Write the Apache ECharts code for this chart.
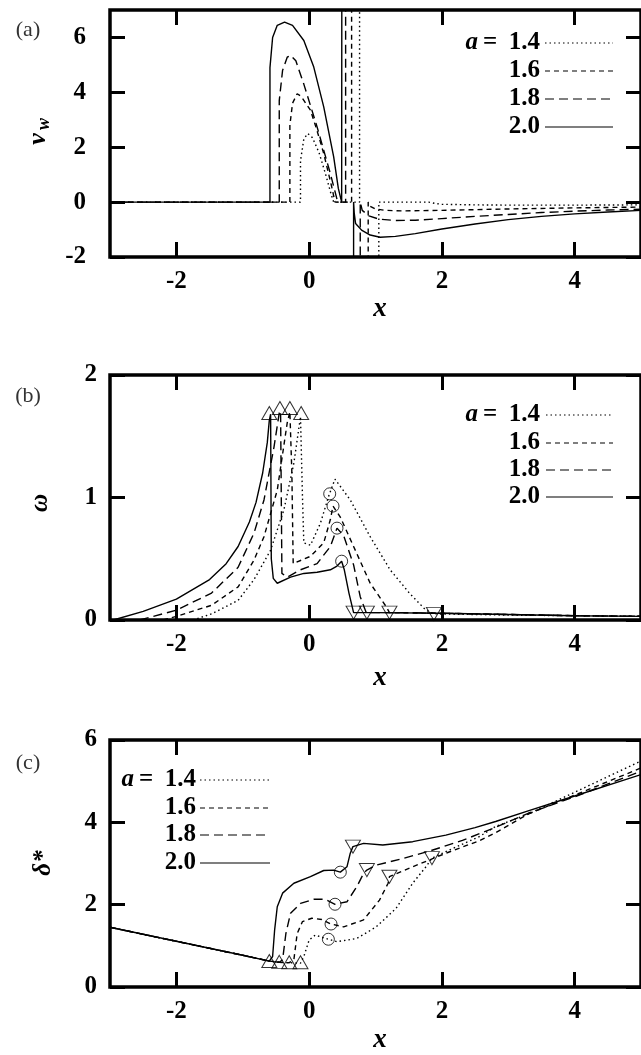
<!DOCTYPE html>
<html>
<head>
<meta charset="utf-8">
<script src="https://cdn.jsdelivr.net/npm/echarts@6/dist/echarts.min.js"></script>
<style>
  html, body { margin: 0; padding: 0; background: #fff; }
  #chart { width: 641px; height: 1055px; }
</style>
</head>
<body>
<div id="chart"></div>
<script>
// ---- parameter values (a) ----
const aValues = ['1.4', '1.6', '1.8', '2.0'];
const xTicks = [-2, 0, 2, 4];
const vwTicks = [-2, 0, 2, 4, 6];
const omTicks = [0, 1, 2];
const dsTicks = [0, 2, 4, 6];

// ---- wall-normal velocity v_w(x); '-' breaks the curve across the singular region ----
const vw14 = [[-3,0],[-0.13,0],[-0.13,1.5],[-0.08,2.3],[-0.02,2.5],[0.05,2.35],[0.15,1.8],[0.25,1.0],[0.33,0.3],[0.37,0],
  [0.76,0],[0.76,30],[0.8,'-'],[1.05,-30],[1.05,0],[1.8,0],[1.9,-0.05],[2.0,-0.08],[2.5,-0.1],[3,-0.11],[4,-0.11],[5,-0.1]];
const vw16 = [[-3,0],[-0.29,0],[-0.29,2.8],[-0.25,3.6],[-0.18,3.95],[-0.12,3.85],[0.02,3.35],[0.12,2.6],[0.22,1.77],[0.34,0.56],[0.39,0],
  [0.64,0],[0.64,30],[0.7,'-'],[0.89,-30],[0.89,0],[0.92,-0.15],[1.0,-0.25],[1.15,-0.3],[1.4,-0.32],[2.0,-0.3],[3.0,-0.25],[4.0,-0.21],[5,-0.18]];
const vw18 = [[-3,0],[-0.45,0],[-0.45,3.7],[-0.4,4.8],[-0.33,5.28],[-0.28,5.35],[-0.2,5.15],[-0.08,4.3],[0.12,2.74],[0.32,1.04],[0.42,0.1],[0.44,0],
  [0.55,0],[0.55,30],[0.6,'-'],[0.77,-30],[0.77,0],[0.8,-0.3],[0.9,-0.5],[1.05,-0.62],[1.3,-0.67],[1.6,-0.66],[2.0,-0.6],[2.5,-0.52],[3.0,-0.45],[3.5,-0.38],[4.0,-0.33],[4.5,-0.29],[5,-0.26]];
const vw20 = [[-3,0],[-0.59,0],[-0.59,4.9],[-0.55,6.0],[-0.48,6.44],[-0.37,6.56],[-0.25,6.44],[-0.08,5.89],[0.07,4.92],[0.22,3.47],[0.37,1.65],[0.44,0.5],[0.49,0],
  [0.5,0],[0.5,30],[0.58,'-'],[0.67,-30],[0.67,0],[0.68,-0.41],[0.70,-0.78],[0.79,-1.02],[0.92,-1.2],[1.07,-1.28],[1.3,-1.25],[1.6,-1.15],[2.0,-0.98],[2.5,-0.8],[3.0,-0.64],[3.5,-0.52],[4.0,-0.43],[4.5,-0.36],[5,-0.3]];

// ---- wall vorticity omega(x) ----
const om14 = [[-1.75,0],[-1.47,0.05],[-1.07,0.16],[-0.83,0.33],[-0.58,0.57],[-0.38,0.9],[-0.23,1.28],[-0.13,1.66],[-0.1,1.0],[-0.08,0.63],[0.02,0.61],[0.17,0.79],[0.30,1.02],[0.39,1.15],
  [0.62,0.98],[0.92,0.68],[1.22,0.41],[1.51,0.22],[1.76,0.08],[1.88,0.05],[2.5,0.045],[3,0.04],[4,0.035],[5,0.03]];
const om16 = [[-2.2,0],[-2,0.03],[-1.47,0.12],[-1.07,0.27],[-0.83,0.49],[-0.68,0.68],[-0.48,1.06],[-0.33,1.61],[-0.29,1.70],[-0.26,1.2],[-0.24,0.46],[-0.22,0.45],[0.02,0.52],[0.22,0.63],[0.32,0.82],[0.36,0.93],
  [0.47,0.84],[0.67,0.6],[0.92,0.3],[1.16,0.11],[1.21,0.06],[2,0.055],[3,0.045],[4,0.035],[5,0.03]];
const om18 = [[-2.55,0],[-2,0.08],[-1.47,0.22],[-1.07,0.43],[-0.83,0.71],[-0.68,0.98],[-0.53,1.41],[-0.45,1.69],[-0.43,1.71],[-0.41,0.38],[-0.33,0.35],[-0.13,0.41],[0.12,0.46],[0.32,0.6],[0.42,0.75],
  [0.52,0.69],[0.67,0.45],[0.77,0.19],[0.86,0.06],[1.5,0.06],[2,0.055],[3,0.045],[4,0.035],[5,0.03]];
const om20 = [[-2.95,0],[-2.5,0.07],[-2,0.17],[-1.5,0.33],[-1.25,0.46],[-1.07,0.6],[-0.9,0.8],[-0.8,0.96],[-0.7,1.2],[-0.63,1.45],[-0.6,1.63],[-0.58,1.68],[-0.57,0.5],[-0.54,0.34],[-0.48,0.30],
  [-0.28,0.35],[-0.08,0.38],[0.12,0.39],[0.32,0.41],[0.42,0.44],[0.49,0.48],[0.53,0.41],[0.6,0.22],[0.67,0.06],[1,0.06],[2,0.055],[3,0.045],[4,0.035],[5,0.03]];
const omUp = [[-0.6,1.69],[-0.44,1.73],[-0.29,1.73],[-0.12,1.69]];
const omCircle = [[0.49,0.48],[0.42,0.75],[0.36,0.93],[0.31,1.03]];
const omDown = [[0.67,0.06],[0.87,0.06],[1.21,0.06],[1.88,0.05]];

// ---- displacement thickness delta*(x) ----
const dsUpstream = [[-3,1.45],[-2.5,1.28],[-2,1.11],[-1.5,0.94],[-1,0.77],[-0.6,0.63]];
const ds14 = [[-0.45,0.6],[-0.3,0.59],[-0.13,0.58],[-0.08,0.74],[0.0,1.14],[0.09,1.26],[0.29,1.16],[0.42,1.10],[0.72,1.18],[1.01,1.46],[1.31,1.91],[1.56,2.52],[1.76,2.92],[1.85,3.13],
  [2.06,3.29],[2.56,3.65],[2.81,3.9],[3.3,4.2],[4,4.73],[5,5.49]];
const ds16 = [[-0.45,0.6],[-0.3,0.59],[-0.23,0.66],[-0.18,1.30],[-0.10,1.59],[0.04,1.67],[0.19,1.64],[0.33,1.53],[0.52,1.46],[0.82,1.63],[1.06,2.11],[1.19,2.52],[1.21,2.68],
  [1.56,2.92],[2.06,3.25],[2.56,3.55],[2.81,3.75],[3.3,4.2],[4,4.66],[5,5.32]];
const ds18 = [[-0.45,0.6],[-0.4,0.66],[-0.35,1.30],[-0.28,1.79],[-0.13,2.03],[0.07,2.13],[0.24,2.13],[0.39,2.01],[0.57,2.07],[0.72,2.44],[0.82,2.76],[0.87,2.84],
  [1.01,2.96],[1.41,3.12],[1.81,3.3],[2.31,3.56],[2.81,3.88],[3.3,4.22],[4,4.62],[5,5.24]];
const ds20 = [[-0.55,0.74],[-0.52,1.38],[-0.48,1.95],[-0.40,2.28],[-0.23,2.52],[0.02,2.68],[0.22,2.83],[0.37,2.84],[0.47,2.79],[0.57,2.92],[0.62,3.25],[0.66,3.41],
  [0.82,3.49],[1.11,3.45],[1.56,3.53],[2.06,3.69],[2.5,3.87],[2.81,4.02],[3.3,4.28],[4,4.64],[5,5.16]];
const dsUp = [[-0.6,0.63],[-0.45,0.61],[-0.3,0.6],[-0.13,0.6]];
const dsCircle = [[0.47,2.79],[0.39,2.01],[0.33,1.53],[0.29,1.16]];
const dsDown = [[0.66,3.41],[0.87,2.84],[1.21,2.68],[1.85,3.13]];

const F = '"Liberation Serif", "Times New Roman", serif';
const DASH = [[1.5, 3], [5, 4], [9, 5], 'solid'];

// grids: left/top edges and heights of the three frames (x = 5 lands just past the right edge)
const frames = [
  { top: 10, height: 247, yMin: -2, yMax: 7, yTicks: vwTicks, labMargin: 24 },
  { top: 375, height: 245, yMin: 0, yMax: 2, yTicks: omTicks, labMargin: 13 },
  { top: 740, height: 247, yMin: 0, yMax: 6, yTicks: dsTicks, labMargin: 13 }
];

const tickStyle = { show: true, inside: true, length: 15, lineStyle: { color: '#000', width: 3 } };
const labelStyle = { color: '#000', fontFamily: F, fontWeight: 'bold', fontSize: 25 };

const grid = [], xAxis = [], yAxis = [];
frames.forEach((f, i) => {
  grid.push({ left: 110, right: -6, top: f.top, height: f.height, show: true,
    borderColor: '#000', borderWidth: 3.5, backgroundColor: 'transparent' });
  ['bottom', 'top'].forEach(pos => {
    xAxis.push({ type: 'value', gridIndex: i, position: pos, min: -3, max: 5,
      axisLine: { show: false, onZero: false }, splitLine: { show: false },
      axisTick: Object.assign({ customValues: xTicks }, tickStyle),
      axisLabel: Object.assign({ show: pos === 'bottom', customValues: xTicks, margin: 12,
        formatter: v => String(v) }, labelStyle) });
  });
  ['left', 'right'].forEach(pos => {
    yAxis.push({ type: 'value', gridIndex: i, position: pos, min: f.yMin, max: f.yMax,
      axisLine: { show: false, onZero: false }, splitLine: { show: false },
      axisTick: Object.assign({ customValues: f.yTicks }, tickStyle),
      axisLabel: Object.assign({ show: pos === 'left', customValues: f.yTicks, margin: f.labMargin,
        formatter: v => String(v) }, labelStyle) });
  });
});

function curve(panel, data, k) {
  return { type: 'line', xAxisIndex: 2 * panel, yAxisIndex: 2 * panel, data: data,
    showSymbol: false, symbol: 'none', clip: true, silent: true,
    lineStyle: { color: '#000', width: 1.4, type: DASH[k] } };
}
function markers(panel, data, symbol, rotate, size) {
  return { type: 'scatter', xAxisIndex: 2 * panel, yAxisIndex: 2 * panel, data: data,
    symbol: symbol, symbolRotate: rotate, symbolSize: size, silent: true, z: 5,
    itemStyle: { color: 'rgba(0,0,0,0)', borderColor: '#000', borderWidth: 1 } };
}

const series = [
  curve(0, vw14, 0), curve(0, vw16, 1), curve(0, vw18, 2), curve(0, vw20, 3),
  curve(1, om14, 0), curve(1, om16, 1), curve(1, om18, 2), curve(1, om20, 3),
  markers(1, omUp, 'triangle', 0, [15, 13]), markers(1, omCircle, 'circle', 0, 12), markers(1, omDown, 'triangle', 180, [15, 13]),
  curve(2, dsUpstream.concat(ds14), 0), curve(2, dsUpstream.concat(ds16), 1), curve(2, dsUpstream.concat(ds18), 2), curve(2, dsUpstream.concat(ds20), 3),
  markers(2, dsUp, 'triangle', 0, [15, 13]), markers(2, dsCircle, 'circle', 0, 12), markers(2, dsDown, 'triangle', 180, [15, 13])
];

// ---- text and legend keys ----
const graphic = [];
function txt(x, y, text, opt) {
  graphic.push(Object.assign({ type: 'text', x: x, y: y, silent: true,
    style: Object.assign({ text: text, fill: '#000', fontFamily: F, fontSize: 25, fontWeight: 'bold',
      align: 'center', verticalAlign: 'middle' }, opt || {}) }));
}
function rotTxt(x, y, text, opt) {
  graphic.push({ type: 'text', x: x, y: y, rotation: Math.PI / 2, silent: true,
    style: Object.assign({ text: text, fill: '#000', fontFamily: F, fontSize: 25, fontWeight: 'bold',
      fontStyle: 'italic', align: 'center', verticalAlign: 'middle' }, opt || {}) });
}

// panel tags
[['(a)', 30], ['(b)', 396], ['(c)', 763]].forEach(([t, y]) =>
  txt(28, y, t, { fontWeight: 'normal', fontSize: 22, fill: '#333' }));

// x axis names
[309, 678, 1040].forEach(y => txt(380, y, 'x', { fontStyle: 'italic', fontSize: 27 }));

// y axis names
rotTxt(38, 139, 'v', { fontSize: 26 });
rotTxt(44, 124, 'w', { fontSize: 18 });
rotTxt(41, 503, '\u03C9', { fontSize: 25 });
rotTxt(44, 863, '\u03B4*', { fontSize: 25 });

// legends: value labels, "a =" prefix and line keys
const legends = [
  { textRight: 540, lineFrom: 545, lineTo: 613, rows: [43, 71, 99, 127] },
  { textRight: 540, lineFrom: 546, lineTo: 613, rows: [415, 443, 470, 497] },
  { textRight: 196, lineFrom: 200, lineTo: 270, rows: [780, 808, 835, 863] }
];
legends.forEach(L => {
  aValues.forEach((v, k) => {
    txt(L.textRight, L.rows[k], v, { align: 'right' });
    graphic.push({ type: 'line', silent: true,
      shape: { x1: L.lineFrom, y1: L.rows[k], x2: L.lineTo, y2: L.rows[k] },
      style: { stroke: '#000', lineWidth: 1.2, lineDash: DASH[k] === 'solid' ? null : DASH[k] } });
  });
  txt(L.textRight - 50, L.rows[0], '=', { fontWeight: 'bold' });
  txt(L.textRight - 62, L.rows[0], 'a', { align: 'right', fontStyle: 'italic' });
});

const chart = echarts.init(document.getElementById('chart'), null, { renderer: 'canvas' });
chart.setOption({
  animation: false,
  backgroundColor: '#fff',
  grid: grid,
  xAxis: xAxis,
  yAxis: yAxis,
  series: series,
  graphic: graphic
});
</script>
</body>
</html>
